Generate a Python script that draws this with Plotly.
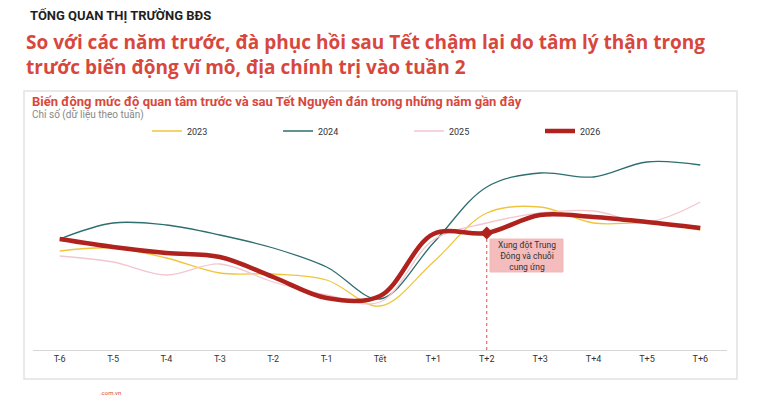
import plotly.graph_objects as go

W, H = 765, 395
OFF = 8  # default body margin of the html page

categories = ["T-6", "T-5", "T-4", "T-3", "T-2", "T-1", "Tết",
              "T+1", "T+2", "T+3", "T+4", "T+5", "T+6"]
s2023 = [99, 102, 92, 77, 76, 70, 44, 88, 137, 143, 127, 127, 120]
s2024 = [111, 127, 125, 115, 102, 83, 51, 107, 163, 177, 173, 188, 185]
s2025 = [94, 88, 75, 86, 68, 55, 48, 110, 127, 137, 139, 128, 148]
s2026 = [111, 103, 97, 93, 73, 52, 54, 116, 117, 135, 133, 128, 122]
event_category = "T+2"
event_text = "Xung đột Trung<br>Đông và chuỗi<br>cung ứng"


def px(x):
    return (x - OFF) / W


def py(y):
    return 1 - (y - OFF) / H


NARROW = "Liberation Sans Narrow, Arial Narrow, Roboto, sans-serif"
BASE = "Roboto, Liberation Sans, sans-serif"
TITLE = "Open Sans, Noto Sans, sans-serif"

fig = go.Figure()
series = [
    ("2023", s2023, "#f0c53c", 1.3),
    ("2024", s2024, "#2e6e70", 1.3),
    ("2025", s2025, "#f3c6cf", 1.3),
    ("2026", s2026, "#b0221d", 4.5),
]
for name, vals, col, w in series:
    fig.add_trace(go.Scatter(
        x=categories, y=vals, name=name, mode="lines",
        line=dict(color=col, width=w, shape="spline", smoothing=1.0),
        hoverinfo="skip"))

ev_idx = categories.index(event_category)
ev_val = s2026[ev_idx]
fig.add_trace(go.Scatter(
    x=[event_category, event_category], y=[0, ev_val], mode="lines",
    line=dict(color="#d9534f", width=1, dash="dot"), showlegend=False,
    hoverinfo="skip"))
fig.add_trace(go.Scatter(
    x=[event_category], y=[ev_val], mode="markers",
    marker=dict(symbol="diamond", size=10, color="#b0221d"),
    showlegend=False, hoverinfo="skip"))

fig.update_layout(
    width=W, height=H,
    margin=dict(l=0, r=0, t=0, b=0),
    paper_bgcolor="white", plot_bgcolor="white",
    font=dict(family=BASE, color="#333"),
    xaxis=dict(domain=[px(33), px(727)], range=[-0.5, 12.5],
               showgrid=False, zeroline=False, showline=True,
               linecolor="#d6d6d6", linewidth=1, ticks="",
               tickfont=dict(size=9, color="#333", family=NARROW),
               fixedrange=True),
    yaxis=dict(domain=[py(350), py(150)], range=[0, 200], visible=False,
               fixedrange=True),
    showlegend=True,
    legend=dict(orientation="h", x=px(147), y=py(131), xanchor="left",
                yanchor="middle", font=dict(size=9, color="#333", family=NARROW),
                entrywidth=86, entrywidthmode="pixels",
                bgcolor="rgba(0,0,0,0)", itemclick=False, itemdoubleclick=False,
                tracegroupgap=0),
)

# card border
fig.add_shape(type="rect", xref="paper", yref="paper",
              x0=px(24), x1=px(737), y0=py(379), y1=py(91),
              line=dict(color="#e2e2e2", width=1.5), fillcolor="rgba(0,0,0,0)",
              layer="below")

# event box
fig.add_shape(type="rect", xref="paper", yref="paper",
              x0=px(490), x1=px(563), y0=py(272), y1=py(239),
              line=dict(color="#f2b8b8", width=1), fillcolor="#f4bcbc",
              layer="above")
fig.add_annotation(xref="paper", yref="paper", x=px(526.5), y=py(255.5),
                   xanchor="center", yanchor="middle",
                   text=event_text, showarrow=False, align="center",
                   font=dict(size=8.5, color="#333", family=BASE))

# titles
fig.add_annotation(xref="paper", yref="paper", x=px(28), y=py(15),
                   xanchor="left", yanchor="middle", showarrow=False,
                   text="<b>TỔNG QUAN THỊ TRƯỜNG BĐS</b>",
                   font=dict(size=13, color="#1f1f1f", family=NARROW))
fig.add_annotation(xref="paper", yref="paper", x=px(24), y=py(42),
                   xanchor="left", yanchor="middle", showarrow=False,
                   text="<b>So với các năm trước, đà phục hồi sau Tết chậm lại do tâm lý thận trọng</b>",
                   font=dict(size=19, color="#d8473d", family=TITLE))
fig.add_annotation(xref="paper", yref="paper", x=px(24), y=py(67),
                   xanchor="left", yanchor="middle", showarrow=False,
                   text="<b>trước biến động vĩ mô, địa chính trị vào tuần 2</b>",
                   font=dict(size=19, color="#d8473d", family=TITLE))
fig.add_annotation(xref="paper", yref="paper", x=px(30), y=py(101),
                   xanchor="left", yanchor="middle", showarrow=False,
                   text="<b>Biến động mức độ quan tâm trước và sau Tết Nguyên đán trong những năm gần đây</b>",
                   font=dict(size=13, color="#d8473d", family=NARROW))
fig.add_annotation(xref="paper", yref="paper", x=px(30), y=py(114),
                   xanchor="left", yanchor="middle", showarrow=False,
                   text="Chỉ số (dữ liệu theo tuần)",
                   font=dict(size=10, color="#888", family=NARROW))
fig.add_annotation(xref="paper", yref="paper", x=px(98), y=py(392),
                   xanchor="left", yanchor="middle", showarrow=False,
                   text=".com.vn",
                   font=dict(size=6, color="#d8473d", family=NARROW))

fig.write_html("out.html")
